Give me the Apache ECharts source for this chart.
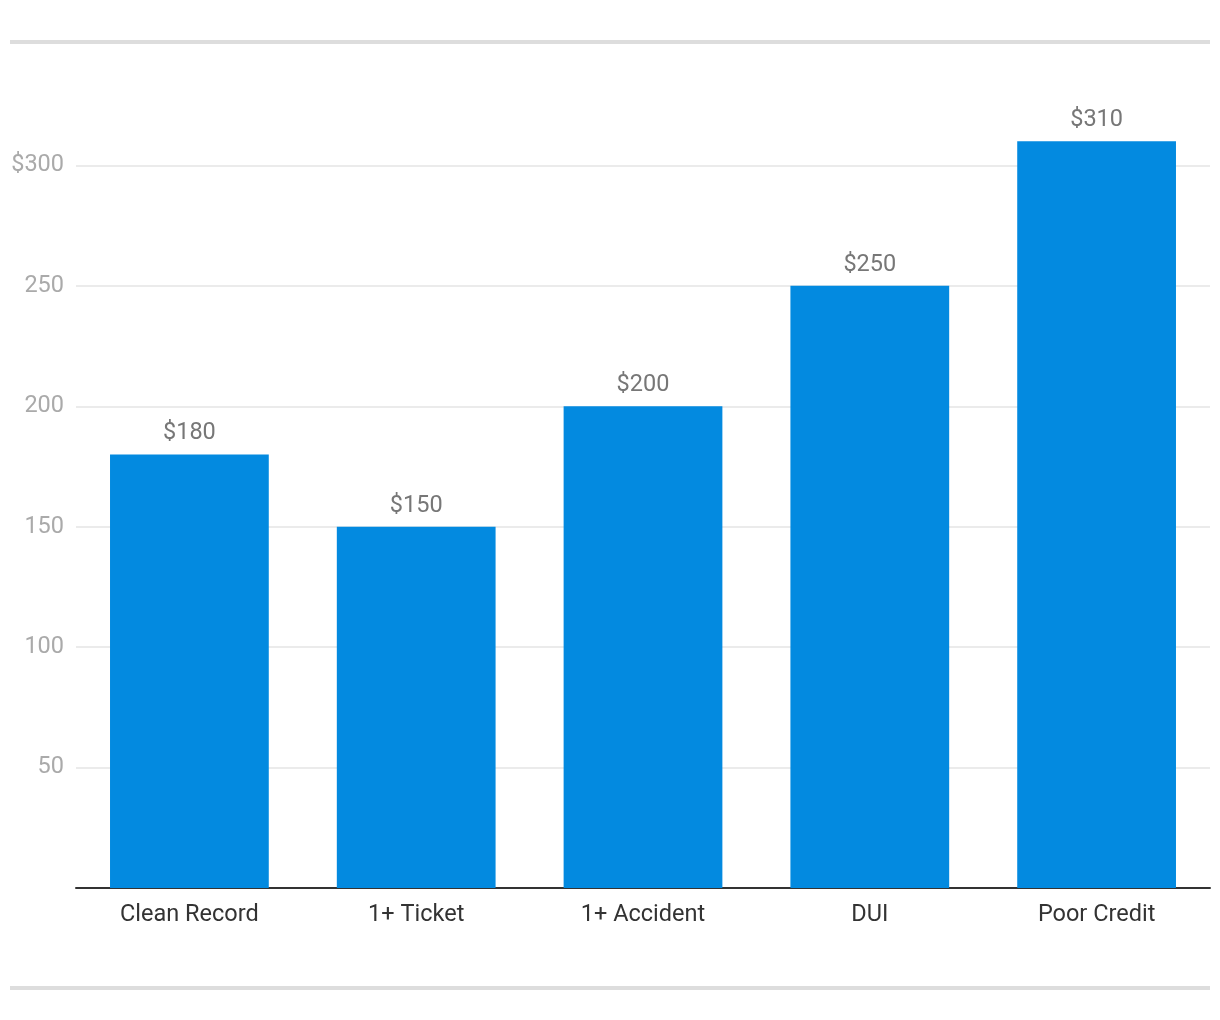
<!DOCTYPE html>
<html>
<head>
<meta charset="utf-8">
<script src="https://cdn.jsdelivr.net/npm/echarts@6/dist/echarts.min.js"></script>
<style>html,body{margin:0;padding:0;background:#fff}#c{width:1220px;height:1020px}</style>
</head>
<body>
<div id="c"></div>
<script>
const categories = ['Clean Record', '1+ Ticket', '1+ Accident', 'DUI', 'Poor Credit'];
const values = [180, 150, 200, 250, 310];
const yTicks = [0, 50, 100, 150, 200, 250, 300];

const chart = echarts.init(document.getElementById('c'));
chart.setOption({
  animation: false,
  backgroundColor: '#fff',
  grid: { left: 76, right: 10, top: 45, bottom: 132 },
  graphic: [
    { type: 'rect', shape: { x: 10, y: 40, width: 1200, height: 4 }, style: { fill: '#dddddd' } },
    { type: 'rect', shape: { x: 10, y: 986, width: 1200, height: 4 }, style: { fill: '#dddddd' } }
  ],
  xAxis: {
    type: 'category',
    data: categories,
    axisLine: { lineStyle: { color: '#333', width: 2 } },
    axisTick: { show: false },
    axisLabel: { color: '#333', fontSize: 23.5, fontFamily: 'Roboto', margin: 15 }
  },
  yAxis: {
    type: 'value',
    min: 0, max: 350, interval: 50,
    axisLine: { show: false },
    axisTick: { show: false },
    splitLine: { show: true, showMaxLine: false, lineStyle: { color: '#e4e4e4', width: 1.5 } },
    axisLabel: {
      color: '#aaa', fontSize: 23.5, fontFamily: 'Roboto', margin: 12,
      padding: [4, 0, 0, 0],
      showMinLabel: false, showMaxLabel: false,
      formatter: v => (v === yTicks[yTicks.length - 1] ? '$' + v : String(v))
    }
  },
  series: [{
    type: 'bar',
    data: values,
    barWidth: '70%',
    itemStyle: { color: '#038ae0' },
    label: {
      show: true, position: 'top', distance: 9,
      color: '#777', fontSize: 23.5, fontFamily: 'Roboto',
      formatter: p => '$' + p.value
    }
  }]
});
</script>
</body>
</html>
